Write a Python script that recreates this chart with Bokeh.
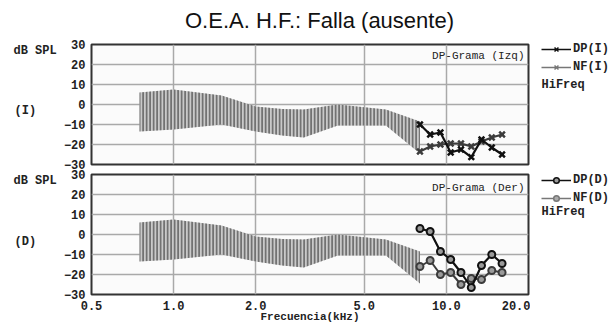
from bokeh.plotting import figure
from bokeh.layouts import column, row
from bokeh.models import Label, Legend, LegendItem, FixedTicker, Range1d
from bokeh.embed import file_html
from bokeh.resources import INLINE

# Normative band (kHz, dB SPL)
band_freq = [0.75, 1.0, 1.5, 2.0, 2.5, 3.0, 4.0, 6.0, 8.0]
band_upper = [6, 7.5, 4.5, -1, -2.3, -2.5, 0, -2.5, -8.5]
band_lower = [-13.5, -12.5, -10, -13.5, -15.5, -16.5, -10.5, -10.5, -24.5]

# High-frequency measurements
freq = [8.0, 8.72, 9.51, 10.37, 11.31, 12.34, 13.45, 14.67, 16.0]
dp_i = [-10, -15, -14, -24, -22.5, -26.3, -17.5, -21.5, -25]
nf_i = [-23.5, -21, -20, -19.5, -19.5, -21, -18.5, -16.5, -15]
dp_d = [3, 1.5, -8.5, -12.5, -19, -26.5, -15.5, -10, -14.5]
nf_d = [-16, -13, -20, -19, -25, -22, -22.5, -18, -19]

x_ticks = [0.5, 1.0, 2.0, 5.0, 10.0, 20.0]
x_labels = ["0.5", "1.0", "2.0", "5.0", "10.0", "20.0"]
x_grid = [1.0, 2.0, 5.0, 10.0]
y_ticks = [-30, -20, -10, 0, 10, 20, 30]
y_grid = [-20, -10, 0, 10, 20]

MONO = "Liberation Mono"
TXT = "#222222"
DP_COLOR = "#111111"
NF_COLOR = "#3c3c3c"

LEFT_W = 60
RIGHT_W = 83
MAIN_W = 613 - LEFT_W - RIGHT_W


def blank_fig(width, height):
    p = figure(width=width, height=height, x_range=Range1d(0, 1), y_range=Range1d(0, 1),
               x_axis_location=None, y_axis_location=None,
               output_backend="svg", toolbar_location=None, frame_align=False,
               min_border_left=0, min_border_right=0, min_border_top=0, min_border_bottom=0)
    p.grid.visible = False
    p.outline_line_color = None
    p.background_fill_color = "white"
    p.border_fill_color = "white"
    return p


def lbl(p, x, y, text, size="12px", style="bold", font=MONO, align="left", color=TXT):
    p.add_layout(Label(x=x, y=y, x_units="screen", y_units="screen", text=text,
                       text_font=font, text_font_size=size, text_font_style=style,
                       text_align=align, text_baseline="middle", text_color=color))


def main_fig(height, top, bottom):
    p = figure(width=MAIN_W, height=height, x_axis_type="log",
               x_range=Range1d(0.5, 20), y_range=Range1d(-30, 30),
               output_backend="svg", toolbar_location=None,
               min_border_left=89 - LEFT_W, min_border_right=2,
               min_border_top=top, min_border_bottom=bottom)
    p.background_fill_color = "#fbfbfb"
    p.border_fill_color = "white"
    p.outline_line_color = "#333333"
    p.outline_line_width = 2
    p.xgrid.ticker = FixedTicker(ticks=x_grid)
    p.ygrid.ticker = FixedTicker(ticks=y_grid)
    for g in (p.xgrid, p.ygrid):
        g.grid_line_color = "#a9a9a9"
        g.grid_line_width = 1.5
    ya = p.yaxis[0]
    ya.ticker = FixedTicker(ticks=y_ticks)
    ya.axis_line_color = None
    ya.major_tick_line_color = None
    ya.minor_tick_line_color = None
    ya.major_tick_out = 0
    ya.major_tick_in = 0
    ya.major_label_standoff = 6
    ya.major_label_text_font = MONO
    ya.major_label_text_font_style = "bold"
    ya.major_label_text_font_size = "12px"
    ya.major_label_text_color = TXT
    xa = p.xaxis[0]
    xa.ticker = FixedTicker(ticks=x_ticks)
    xa.major_label_overrides = dict(zip(x_ticks, x_labels))
    xa.axis_line_color = None
    xa.major_tick_line_color = None
    xa.minor_tick_line_color = None
    xa.major_tick_out = 0
    xa.major_tick_in = 0
    xa.major_label_standoff = 6
    xa.major_label_text_font = MONO
    xa.major_label_text_font_style = "bold"
    xa.major_label_text_font_size = "12px"
    xa.major_label_text_color = TXT

    p.varea(x=band_freq, y1=band_lower, y2=band_upper,
            fill_color="#c9c9c9", fill_alpha=1.0,
            hatch_pattern="|", hatch_color="#727272",
            hatch_scale=3.5, hatch_weight=2)
    return p


def legend_fig(height, marker, labels, dp_vals, nf_vals, legend_bottom_y, hifreq_y):
    # Side figure that only hosts the legend; its ranges keep the series out of view,
    # so the series renderers here serve as legend swatches only.
    r = blank_fig(RIGHT_W, height)
    dl = r.line(freq, dp_vals, line_color=DP_COLOR, line_width=1.5)
    ds = r.scatter(freq, dp_vals, marker=marker, size=7, line_width=1.5,
                   line_color=DP_COLOR, fill_color="#9a9a9a")
    nl = r.line(freq, nf_vals, line_color="#777777", line_width=1.5)
    ns = r.scatter(freq, nf_vals, marker=marker, size=7, line_width=1.5,
                   line_color="#777777", fill_color="#aaaaaa")
    leg = Legend(items=[LegendItem(label=labels[0], renderers=[dl, ds]),
                        LegendItem(label=labels[1], renderers=[nl, ns])],
                 location=(11, legend_bottom_y), padding=0, margin=0, spacing=4,
                 glyph_width=30, glyph_height=14, label_height=14, label_standoff=2,
                 background_fill_alpha=0, border_line_color=None,
                 label_text_font=MONO, label_text_font_style="bold",
                 label_text_font_size="12px", label_text_color=TXT)
    r.add_layout(leg)
    lbl(r, 11, hifreq_y, "HiFreq")
    return r


# ---------- title ----------
t = blank_fig(613, 36)
lbl(t, 319, 16, "O.E.A. H.F.: Falla (ausente)", size="22px", style="normal",
    font="Liberation Sans", align="center", color="#111111")

# ---------- top panel (left ear) ----------
H1 = 133
l1 = blank_fig(LEFT_W, H1)
lbl(l1, 13, 119, "dB SPL")
lbl(l1, 14, 59, "(I)")

p1 = main_fig(H1, 8, 5)
p1.xaxis.visible = False
p1.line(freq, nf_i, line_color=NF_COLOR, line_width=2)
p1.scatter(freq, nf_i, marker="x", size=8, line_width=2.5, line_color=NF_COLOR)
p1.line(freq, dp_i, line_color=DP_COLOR, line_width=2.2)
p1.scatter(freq, dp_i, marker="x", size=8, line_width=2.5, line_color=DP_COLOR)
lbl(p1, 433, 109, "DP-Grama (Izq)", size="11px", style="normal", align="right")

r1 = legend_fig(H1, "x", ["DP(I)", "NF(I)"], dp_i, nf_i, 95, 85)

# ---------- bottom panel (right ear) ----------
H2 = 156
l2 = blank_fig(LEFT_W, H2)
lbl(l2, 13, 145, "dB SPL")
lbl(l2, 14, 84, "(D)")

p2 = main_fig(H2, 5, 31)
xa2 = p2.xaxis[0]
xa2.axis_label = "Frecuencia(kHz)"
xa2.axis_label_standoff = -2
xa2.axis_label_text_font = MONO
xa2.axis_label_text_font_style = "bold"
xa2.axis_label_text_font_size = "11px"
xa2.axis_label_text_color = TXT
p2.line(freq, nf_d, line_color=NF_COLOR, line_width=2)
p2.scatter(freq, nf_d, marker="circle", size=7, line_width=2,
           line_color=NF_COLOR, fill_color="#9a9a9a")
p2.line(freq, dp_d, line_color=DP_COLOR, line_width=2.2)
p2.scatter(freq, dp_d, marker="circle", size=7, line_width=2,
           line_color=DP_COLOR, fill_color="#9a9a9a")
lbl(p2, 433, 107, "DP-Grama (Der)", size="11px", style="normal", align="right")

r2 = legend_fig(H2, "circle", ["DP(D)", "NF(D)"], dp_d, nf_d, 120, 114)

layout = column(t, row(l1, p1, r1, spacing=0), row(l2, p2, r2, spacing=0), spacing=0)
open("out.html", "w").write(file_html(layout, INLINE))
